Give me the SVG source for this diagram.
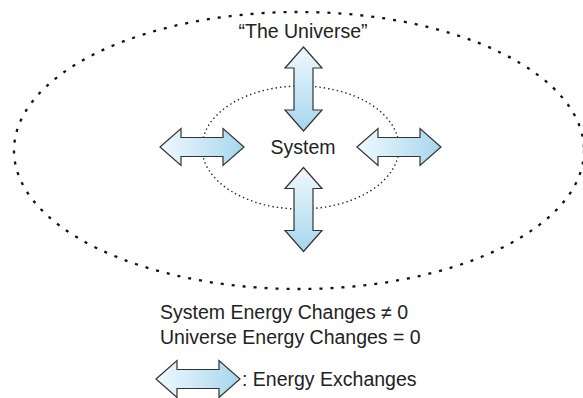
<svg xmlns="http://www.w3.org/2000/svg" width="583" height="398" viewBox="0 0 583 398">
  <style>
    .label { font-family: "Liberation Sans", Arial, sans-serif; font-size: 19.5px; fill: #222; }
    .boundary-outer { fill: none; stroke: #111; stroke-width: 2.3; stroke-dasharray: 3 8; }
    .boundary-inner { fill: none; stroke: #222; stroke-width: 1.4; stroke-dasharray: 1.4 3; }
    .exchange { fill: url(#flow); stroke: #333; stroke-width: 1.2; stroke-linejoin: miter; }
  </style>
  <defs>
    <linearGradient id="flow" x1="0" y1="0" x2="1" y2="0">
      <stop offset="0" stop-color="#f0f9fd"/>
      <stop offset="1" stop-color="#a6d6ee"/>
    </linearGradient>
    <!-- double-headed arrow, 84 long, centred on the origin -->
    <path id="dbl-arrow" class="exchange"
          d="M -42 0 L -21 -18.5 L -21 -9.5 L 21 -9.5 L 21 -18.5 L 42 0 L 21 18.5 L 21 9.5 L -21 9.5 L -21 18.5 Z"/>
  </defs>

  <g id="universe">
    <ellipse class="boundary-outer" cx="299" cy="150.5" rx="285" ry="138.5"/>
    <text class="label" x="303" y="38" text-anchor="middle">“The Universe”</text>
  </g>

  <g id="system">
    <ellipse class="boundary-inner" cx="300.5" cy="147.5" rx="98.5" ry="61.5"/>
    <text class="label" x="303" y="154" text-anchor="middle">System</text>
  </g>

  <g id="exchanges">
    <use href="#dbl-arrow" transform="translate(303.5 89) rotate(90)"/>
    <use href="#dbl-arrow" transform="translate(303.5 209.5) rotate(90)"/>
    <use href="#dbl-arrow" transform="translate(202 147)"/>
    <use href="#dbl-arrow" transform="translate(399 147)"/>
  </g>

  <g id="summary">
    <text class="label" x="160" y="319">System Energy Changes ≠ 0</text>
    <text class="label" x="160" y="344">Universe Energy Changes = 0</text>
  </g>

  <g id="legend">
    <use href="#dbl-arrow" transform="translate(198 379)"/>
    <text class="label" x="242" y="386">: Energy Exchanges</text>
  </g>
</svg>
